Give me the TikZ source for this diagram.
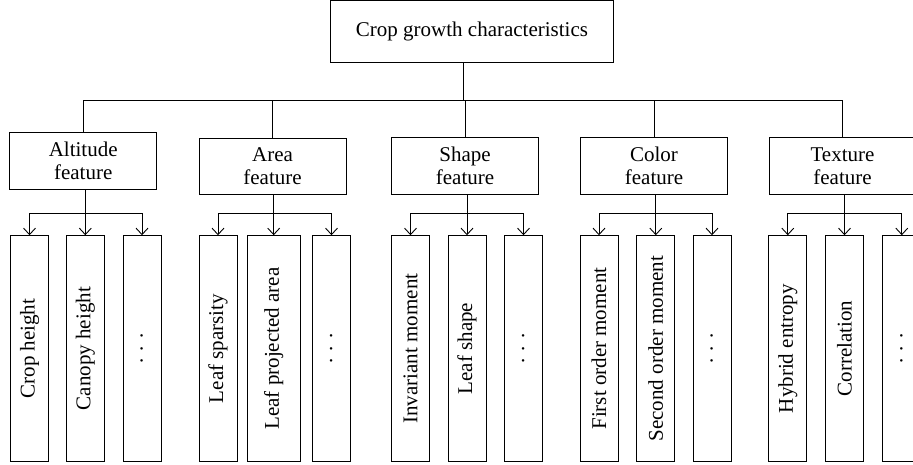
\documentclass[tikz,border=0pt]{standalone}
\usepackage{fontspec}
\setmainfont{Liberation Serif}
\usetikzlibrary{arrows.meta,calc}
\begin{document}
\begin{tikzpicture}[x=1pt,y=-1pt,line width=0.9pt,
  every node/.style={font=\fontsize{21}{22.5}\selectfont},
  topbox/.style={draw,inner sep=0pt,minimum width=282.6pt,minimum height=62pt},
  feat/.style={draw,inner sep=0pt,align=center,minimum width=147pt,minimum height=56.5pt},
  leaf/.style={draw,inner sep=0pt,rotate=90,minimum width=225.8pt,minimum height=38pt},
  wideleaf/.style={leaf,minimum height=52.7pt},
  dotsleaf/.style={leaf,text height=0.1em,text depth=0pt},
  arr/.style={-{Straight Barb[length=6.5pt,width=12pt]}}]
\useasboundingbox (0,0) rectangle (913,465);
\clip (0,0) rectangle (913,465);
\def\dd{.\hspace{0.35em}.\hspace{0.35em}.}
% top
\node[topbox] (top) at (472,31.8) {Crop growth characteristics};
% features
\node[feat] (alt) at (83.2,161) {Altitude\\feature};
\node[feat] (area) at (272.5,166.3) {Area\\feature};
\node[feat] (shape) at (465,166) {Shape\\feature};
\node[feat] (color) at (654,166) {Color\\feature};
\node[feat] (tex) at (842.5,166) {Texture\\feature};
% leaves
\node[leaf] (alt1) at (29.5,348.6) {Crop height};
\node[leaf] (alt2) at (85.3,348.6) {Canopy height};
\node[dotsleaf] (alt3) at (142,348.6) {\dd};
\node[leaf] (area1) at (218,348.6) {Leaf sparsity};
\node[wideleaf] (area2) at (273.7,348.6) {Leaf projected area};
\node[dotsleaf] (area3) at (331.5,348.6) {\dd};
\node[leaf] (shape1) at (410.5,348.6) {Invariant moment};
\node[leaf] (shape2) at (467,348.6) {Leaf shape};
\node[dotsleaf] (shape3) at (523.5,348.6) {\dd};
\node[leaf] (color1) at (599,348.6) {First order moment};
\node[leaf] (color2) at (655.8,348.6) {Second order moment};
\node[dotsleaf] (color3) at (712,348.6) {\dd};
\node[leaf] (tex1) at (787.8,348.6) {Hybrid entropy};
\node[leaf] (tex2) at (844.5,348.6) {Correlation};
\node[dotsleaf] (tex3) at (901.8,348.6) {\dd};
% top bus
\coordinate (bus) at (0,100);
\coordinate (cb) at (0,213.3);
\draw ([xshift=-8.7pt]top.south) -- ([xshift=-8.7pt]top.south |- bus);
\draw (alt.north) -- (alt.north |- bus) -- (tex.north |- bus) -- (tex.north);
\draw (area.north) -- (area.north |- bus);
\draw (shape.north) -- (shape.north |- bus);
\draw (color.north) -- (color.north |- bus);
% child buses
\foreach \f in {alt,area,shape,color,tex}{
  \draw[arr] (\f.south -| \f2.east) -- (\f2.east);
  \draw (\f1.east |- cb) -- (\f3.east |- cb);
  \draw[arr] (\f1.east |- cb) -- (\f1.east);
  \draw[arr] (\f3.east |- cb) -- (\f3.east);
}
\end{tikzpicture}
\end{document}
